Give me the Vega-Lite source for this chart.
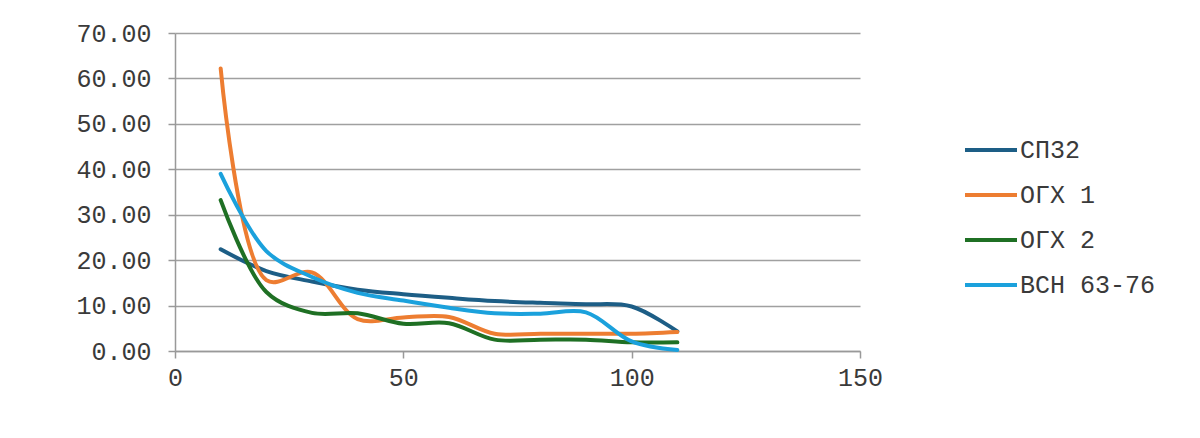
{
  "$schema": "https://vega.github.io/schema/vega-lite/v6.json",
  "autosize": {"type": "none"},
  "width": 685,
  "height": 318,
  "padding": {"left": 175, "top": 33, "right": 340, "bottom": 87},
  "background": "white",
  "config": {
    "view": {"stroke": null},
    "font": "Liberation Mono"
  },
  "data": {
    "values": [
      {"x": 10, "series": "СП32", "y": 22.4},
      {"x": 20, "series": "СП32", "y": 17.6},
      {"x": 30, "series": "СП32", "y": 15.3},
      {"x": 40, "series": "СП32", "y": 13.5},
      {"x": 50, "series": "СП32", "y": 12.5},
      {"x": 60, "series": "СП32", "y": 11.7},
      {"x": 70, "series": "СП32", "y": 11.0},
      {"x": 80, "series": "СП32", "y": 10.6},
      {"x": 90, "series": "СП32", "y": 10.3},
      {"x": 100, "series": "СП32", "y": 9.8},
      {"x": 110, "series": "СП32", "y": 4.3},
      {"x": 10, "series": "ОГХ 1", "y": 62.2},
      {"x": 20, "series": "ОГХ 1", "y": 15.6},
      {"x": 30, "series": "ОГХ 1", "y": 17.3},
      {"x": 40, "series": "ОГХ 1", "y": 7.0},
      {"x": 50, "series": "ОГХ 1", "y": 7.4},
      {"x": 60, "series": "ОГХ 1", "y": 7.5},
      {"x": 70, "series": "ОГХ 1", "y": 3.8},
      {"x": 80, "series": "ОГХ 1", "y": 3.8},
      {"x": 90, "series": "ОГХ 1", "y": 3.8},
      {"x": 100, "series": "ОГХ 1", "y": 3.8},
      {"x": 110, "series": "ОГХ 1", "y": 4.2},
      {"x": 10, "series": "ОГХ 2", "y": 33.2},
      {"x": 20, "series": "ОГХ 2", "y": 13.0},
      {"x": 30, "series": "ОГХ 2", "y": 8.4},
      {"x": 40, "series": "ОГХ 2", "y": 8.3},
      {"x": 50, "series": "ОГХ 2", "y": 6.0},
      {"x": 60, "series": "ОГХ 2", "y": 6.1},
      {"x": 70, "series": "ОГХ 2", "y": 2.5},
      {"x": 80, "series": "ОГХ 2", "y": 2.5},
      {"x": 90, "series": "ОГХ 2", "y": 2.5},
      {"x": 100, "series": "ОГХ 2", "y": 1.9},
      {"x": 110, "series": "ОГХ 2", "y": 1.9},
      {"x": 10, "series": "ВСН 63-76", "y": 39.0},
      {"x": 20, "series": "ВСН 63-76", "y": 22.0},
      {"x": 30, "series": "ВСН 63-76", "y": 16.3},
      {"x": 40, "series": "ВСН 63-76", "y": 12.8},
      {"x": 50, "series": "ВСН 63-76", "y": 11.1},
      {"x": 60, "series": "ВСН 63-76", "y": 9.5},
      {"x": 70, "series": "ВСН 63-76", "y": 8.3},
      {"x": 80, "series": "ВСН 63-76", "y": 8.2},
      {"x": 90, "series": "ВСН 63-76", "y": 8.5},
      {"x": 100, "series": "ВСН 63-76", "y": 2.1},
      {"x": 110, "series": "ВСН 63-76", "y": 0.2}
    ]
  },
  "mark": {"type": "line", "interpolate": "catmull-rom", "strokeWidth": 4, "strokeCap": "round"},
  "encoding": {
    "x": {
      "field": "x", "type": "quantitative",
      "scale": {"domain": [0, 150], "nice": false, "zero": false},
      "axis": {
        "title": null, "values": [0, 50, 100, 150], "grid": false,
        "domainColor": "#999999", "domainWidth": 1.5,
        "tickColor": "#999999", "tickWidth": 1.5, "tickSize": 7,
        "labelFont": "Liberation Mono", "labelFontSize": 25, "labelColor": "#3a3a3a",
        "labelPadding": 7, "labelFlush": false
      }
    },
    "y": {
      "field": "y", "type": "quantitative",
      "scale": {"domain": [0, 70], "nice": false},
      "axis": {
        "title": null, "values": [0, 10, 20, 30, 40, 50, 60, 70], "format": ".2f",
        "grid": true, "gridColor": "#a0a0a0", "gridWidth": 1.5,
        "domainColor": "#999999", "domainWidth": 1.5,
        "tickColor": "#999999", "tickWidth": 1.5, "tickSize": 7,
        "labelFont": "Liberation Mono", "labelFontSize": 25, "labelColor": "#3a3a3a",
        "labelPadding": 17
      }
    },
    "color": {
      "field": "series", "type": "nominal",
      "scale": {
        "domain": ["СП32", "ОГХ 1", "ОГХ 2", "ВСН 63-76"],
        "range": ["#1d5e86", "#ed7d31", "#1f7024", "#1ba1dc"]
      },
      "legend": {
        "title": null, "orient": "none", "legendX": 788, "legendY": 89,
        "symbolType": "stroke", "symbolSize": 2704, "symbolStrokeWidth": 4,
        "labelFont": "Liberation Mono", "labelFontSize": 25, "labelColor": "#3a3a3a",
        "labelOffset": 1, "rowPadding": 4, "labelLimit": 300
      }
    }
  }
}
